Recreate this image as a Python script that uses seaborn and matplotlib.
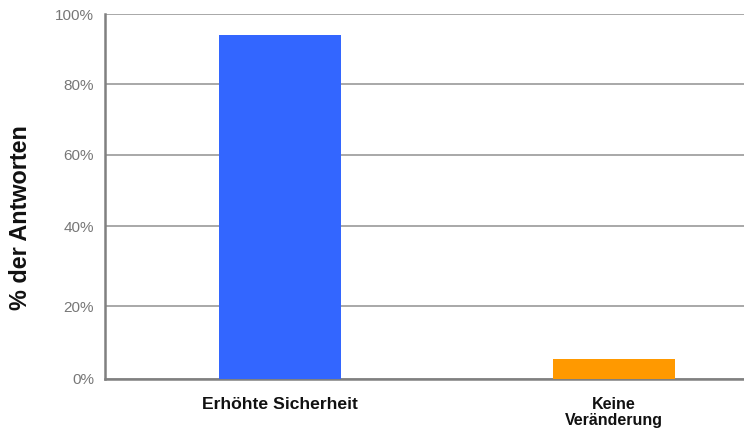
import numpy as np
import pandas as pd
import matplotlib
matplotlib.use("Agg")
import matplotlib.pyplot as plt
import seaborn as sns

# Survey answers (share of responses, %)
categories = ["Erhöhte Sicherheit", "Keine\nVeränderung"]
shares = [94.0, 5.5]
bar_colors = ["#3366FF", "#FF9900"]
y_ticks = [0, 20, 40, 60, 80, 100]
y_tick_labels = ["0%", "20%", "40%", "60%", "80%", "100%"]

# Vertical spacing of the gridlines on the value axis (relative heights)
grid_heights = [0, 72.5, 152.5, 224, 294.5, 364.5]

df = pd.DataFrame({"Kategorie": categories, "Anteil": shares})

sns.set_theme(style="white")
plt.rcParams["font.family"] = ["Liberation Sans", "DejaVu Sans"]

fig = plt.figure(figsize=(7.44, 4.33), dpi=100)
ax = fig.add_axes([105 / 744, 54.5 / 433, 639 / 744, 364.5 / 433])


def fwd(v):
    v = np.asarray(v, dtype=float)
    return np.interp(v, y_ticks, grid_heights)


def inv(h):
    h = np.asarray(h, dtype=float)
    return np.interp(h, grid_heights, y_ticks)


ax.set_yscale("function", functions=(fwd, inv))

sns.barplot(data=df, x="Kategorie", y="Anteil", hue="Kategorie",
            palette=bar_colors, width=0.365, legend=False, ax=ax,
            saturation=1, linewidth=0, edgecolor="none", zorder=3)

ax.set_ylim(0, 100)
ax.set_xlim(-0.524, 1.389)
ax.set_yticks(y_ticks)
ax.set_yticklabels(y_tick_labels)
ax.yaxis.set_minor_locator(matplotlib.ticker.NullLocator())

ax.grid(axis="y", color="#999999", linewidth=1.2, zorder=0)
ax.grid(axis="x", visible=False)
ax.set_axisbelow(True)

for side in ["top", "right"]:
    ax.spines[side].set_visible(False)
for side in ["left", "bottom"]:
    ax.spines[side].set_color("#808080")
    ax.spines[side].set_linewidth(1.8)

ax.tick_params(axis="y", length=0, pad=8, labelsize=11, labelcolor="#777777")
ax.tick_params(axis="x", length=0, pad=13)
xlabels = ax.get_xticklabels()
for lbl, size in zip(xlabels, [12.6, 11.5]):
    lbl.set_fontweight("bold")
    lbl.set_color("#111111")
    lbl.set_fontsize(size)
    lbl.set_linespacing(1.12)

ax.set_xlabel("")
ax.set_ylabel("% der Antworten", fontsize=16.8, fontweight="bold", color="#111111")
ax.yaxis.set_label_coords(-0.114, 0.4417)

fig.savefig("out.png", dpi=100)
